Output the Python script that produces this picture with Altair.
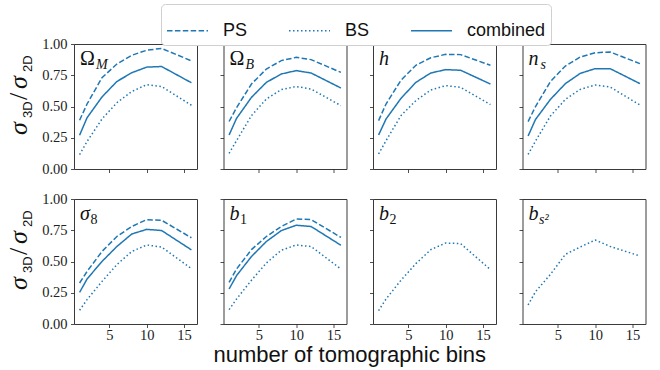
import altair as alt
import pandas as pd

# number of tomographic bins used in each forecast
bins = [1, 2, 4, 6, 8, 10, 12, 16]
params = ["Om", "Ob", "h", "ns", "s8", "b1", "b2", "bs2"]

# sigma_3D / sigma_2D for the power spectrum alone
ps_ratio = {
    "Om": [0.39, 0.52, 0.73, 0.84, 0.91, 0.95, 0.965, 0.865],
    "Ob": [0.38, 0.49, 0.68, 0.80, 0.867, 0.893, 0.875, 0.773],
    "h": [0.387, 0.52, 0.71, 0.83, 0.89, 0.917, 0.915, 0.83],
    "ns": [0.379, 0.50, 0.70, 0.824, 0.896, 0.93, 0.936, 0.843],
    "s8": [0.328, 0.42, 0.58, 0.70, 0.78, 0.835, 0.83, 0.69],
    "b1": [0.333, 0.44, 0.595, 0.70, 0.78, 0.84, 0.835, 0.693],
}

# sigma_3D / sigma_2D for the bispectrum alone
bs_ratio = {
    "Om": [0.115, 0.22, 0.40, 0.53, 0.62, 0.675, 0.66, 0.51],
    "Ob": [0.125, 0.227, 0.427, 0.56, 0.635, 0.66, 0.64, 0.507],
    "h": [0.12, 0.227, 0.427, 0.547, 0.632, 0.667, 0.653, 0.515],
    "ns": [0.117, 0.224, 0.424, 0.557, 0.637, 0.672, 0.656, 0.512],
    "s8": [0.11, 0.195, 0.34, 0.475, 0.58, 0.632, 0.616, 0.443],
    "b1": [0.115, 0.20, 0.35, 0.488, 0.59, 0.632, 0.62, 0.44],
    "b2": [0.107, 0.20, 0.35, 0.483, 0.595, 0.648, 0.643, 0.435],
    "bs2": [0.152, 0.259, 0.397, 0.557, 0.616, 0.672, 0.621, 0.544],
}

# sigma_3D / sigma_2D for PS + BS combined
comb_ratio = {
    "Om": [0.27, 0.41, 0.576, 0.70, 0.77, 0.815, 0.82, 0.69],
    "Ob": [0.272, 0.405, 0.573, 0.693, 0.76, 0.787, 0.768, 0.648],
    "h": [0.272, 0.40, 0.565, 0.693, 0.768, 0.795, 0.79, 0.68],
    "ns": [0.264, 0.397, 0.557, 0.683, 0.765, 0.803, 0.803, 0.683],
    "s8": [0.253, 0.36, 0.50, 0.62, 0.72, 0.757, 0.748, 0.593],
    "b1": [0.28, 0.387, 0.54, 0.66, 0.747, 0.79, 0.78, 0.63],
}

# panel symbols: main glyph and subscript
symbol_main = {"Om": "Ω", "Ob": "Ω", "h": "h", "ns": "n", "s8": "σ",
               "b1": "b", "b2": "b", "bs2": "b"}
symbol_sub = {"Om": "M", "Ob": "B", "h": "", "ns": "s", "s8": "8",
              "b1": "1", "b2": "2", "bs2": "s²"}

kinds = ["PS", "BS", "combined"]
x_ticks = [5, 10, 15]
y_ticks = [0.0, 0.25, 0.5, 0.75, 1.0]

BLUE = "#1f77b4"
SERIF = "Liberation Serif"
SANS = "Liberation Sans"
W, H = 123, 125

rows = []
for p in params:
    for kind, table in zip(kinds, (ps_ratio, bs_ratio, comb_ratio)):
        if p in table:
            for b, v in zip(bins, table[p]):
                rows.append({"param": p, "bins": b, "kind": kind, "ratio": v})
df = pd.DataFrame(rows)

dash_scale = alt.Scale(domain=kinds, range=[[5.5, 2.4], [1.5, 2.5], [1, 0]])
legend = alt.Legend(
    title=None, orient="none", legendX=87, legendY=-40, direction="horizontal",
    symbolType="stroke", symbolSize=1681, symbolStrokeWidth=1.5,
    symbolStrokeColor=BLUE, labelFont=SANS, labelFontSize=18, labelColor="#111",
    labelOffset=14, columnPadding=38, padding=5, strokeColor="#d0d0d0",
    fillColor="white", cornerRadius=4,
)


def text_layer(txt, x, y, font, size, style="normal", angle=0):
    return alt.Chart(pd.DataFrame({"t": [txt]})).mark_text(
        align="left", baseline="alphabetic", font=font, fontSize=size,
        fontStyle=style, angle=angle, color="#111",
    ).encode(text="t:N", x=alt.value(x), y=alt.value(y))


def y_title():
    # sigma_3D / sigma_2D, written bottom-to-top
    return [
        text_layer("σ", -47, 91, SERIF, 26, "italic", 270),
        text_layer("3D", -42, 74, SANS, 13, "normal", 270),
        text_layer("/", -47, 56, SERIF, 26, "normal", 270),
        text_layer("σ", -47, 45, SERIF, 26, "italic", 270),
        text_layer("2D", -42, 28, SANS, 13, "normal", 270),
    ]


def panel(p, row, col):
    lines = alt.Chart(df[df.param == p]).mark_line(
        color=BLUE, strokeWidth=1.5
    ).encode(
        x=alt.X("bins:Q", scale=alt.Scale(domain=[0.25, 16.75], nice=False, zero=False),
                axis=alt.Axis(values=x_ticks, labels=row == 1, title=None,
                              labelPadding=0.5)),
        y=alt.Y("ratio:Q", scale=alt.Scale(domain=[0, 1], nice=False),
                axis=alt.Axis(values=y_ticks, format=".2f", labels=col == 0, title=None)),
        strokeDash=alt.StrokeDash("kind:N", scale=dash_scale, legend=legend),
    )
    main = symbol_main[p]
    sub_x = {"Ω": 22, "h": 17, "n": 18, "σ": 16.5, "b": 16.5}[main]
    layers = [
        lines,
        text_layer(main, 6, 21, SERIF, 20, "normal" if main == "Ω" else "italic"),
    ]
    if symbol_sub[p]:
        sub_style = "normal" if symbol_sub[p].isdigit() else "italic"
        layers.append(text_layer(symbol_sub[p], sub_x, 25, SERIF, 14, sub_style))
    if col == 0:
        layers += y_title()
    return alt.layer(*layers).properties(width=W, height=H)


row1 = alt.hconcat(*[panel(p, 0, i) for i, p in enumerate(params[:4])], spacing=20.5)
row2 = alt.hconcat(*[panel(p, 1, i) for i, p in enumerate(params[4:])], spacing=20.5)

chart = alt.vconcat(row1, row2, spacing=14).resolve_scale(
    strokeDash="shared"
).properties(
    title=alt.TitleParams(
        "number of tomographic bins", orient="bottom", anchor="middle",
        font=SANS, fontSize=22, fontWeight="normal", color="#111", offset=3, dx=24,
    ),
    padding={"left": 5, "top": 3, "right": 4, "bottom": 2},
).configure_view(
    stroke="#3a3a3a", strokeWidth=1
).configure_axis(
    grid=False, domain=False, tickColor="#222", tickWidth=0.8, tickSize=3.5,
    labelFont=SERIF, labelFontSize=14.5, labelColor="#222", labelPadding=3.5,
)

chart.save("out.html", embed_options={"renderer": "svg", "actions": False})
